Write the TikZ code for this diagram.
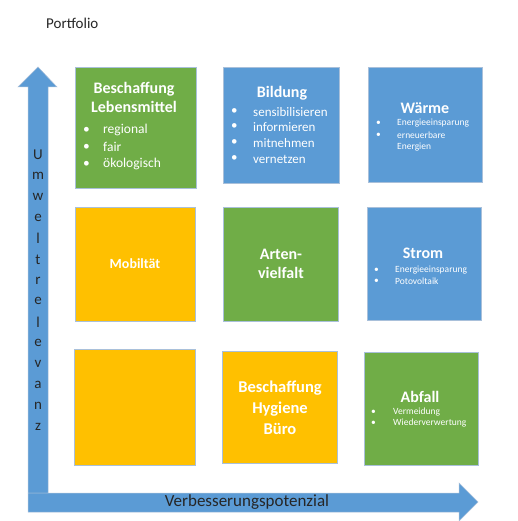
\documentclass[tikz,border=0pt]{standalone}
\usepackage{fontspec}
\setmainfont{Carlito}
\definecolor{grn}{HTML}{70AD47}
\definecolor{blu}{HTML}{5B9BD5}
\definecolor{yel}{HTML}{FFC000}
\definecolor{edgec}{HTML}{A9C0DA}
\definecolor{txt}{HTML}{262626}
\begin{document}
\begin{tikzpicture}[x=1pt,y=-1pt,
  box/.style={draw=edgec, line width=0.6pt, inner sep=0pt, anchor=north west},
  ttl/.style={text=white, font=\bfseries\fontsize{16}{19}\selectfont, align=center, inner sep=0pt},
  bigitem/.style={text=white, font=\fontsize{13.5}{16}\selectfont, inner sep=0pt, anchor=west},
  miditem/.style={text=white, font=\fontsize{13}{15}\selectfont, inner sep=0pt, anchor=west},
  smallitem/.style={text=white, font=\fontsize{9.5}{11}\selectfont, inner sep=0pt, anchor=west},
  vlet/.style={text=txt, font=\fontsize{15}{17}\selectfont, inner sep=0pt}]
\useasboundingbox (0,0) rectangle (518,521);
\fill[white] (0,0) rectangle (518,521);

% title
\node[text=txt, font=\fontsize{15}{17}\selectfont, anchor=west, inner sep=0pt] (port) at (46,23) {Portfolio};

% arrows
\filldraw[fill=blu, draw=edgec, line width=0.5pt]
  (28,493) -- (28,87) -- (18,87) -- (38,67) -- (57,87) -- (48,87) -- (48,493) -- cycle;
\filldraw[fill=blu, draw=edgec, line width=0.5pt]
  (28,493) -- (459,493) -- (459,483) -- (478,502) -- (459,521) -- (459,512) -- (28,512) -- cycle;

\node[text=txt, font=\fontsize{17}{19}\selectfont, inner sep=0pt] (xlab) at (247,502) {Verbesserungspotenzial};

\foreach \l [count=\i] in {U,m,w,e,l,t,r,e,l,e,v,a,n,z}
  \node[vlet] (y\i) at (38,{155+(\i-1)*20.9}) {\l};

% row 1
\node[box, fill=grn, minimum width=121pt, minimum height=121pt] (b11) at (75,67) {};
\node[ttl] (t11) at (134,97) {Beschaffung\\Lebensmittel};
\node[bigitem, text=white] (d11a) at (83,130) {•};
\node[bigitem] (i11a) at (103,130) {regional};
\node[bigitem] (d11b) at (83,147) {•};
\node[bigitem] (i11b) at (103,147) {fair};
\node[bigitem] (d11c) at (83,164) {•};
\node[bigitem] (i11c) at (103,164) {ökologisch};

\node[box, fill=blu, minimum width=116pt, minimum height=116pt] (b12) at (223,67) {};
\node[ttl] (t12) at (282,93) {Bildung};
\node[miditem] (d12a) at (231,112) {•};
\node[miditem] (i12a) at (253,112) {sensibilisieren};
\node[miditem] (d12b) at (231,127) {•};
\node[miditem] (i12b) at (253,127) {informieren};
\node[miditem] (d12c) at (231,143) {•};
\node[miditem] (i12c) at (253,143) {mitnehmen};
\node[miditem] (d12d) at (231,159) {•};
\node[miditem] (i12d) at (253,159) {vernetzen};

\node[box, fill=blu, minimum width=114pt, minimum height=115pt] (b13) at (368,67) {};
\node[ttl] (t13) at (425,108) {Wärme};
\node[smallitem] (d13a) at (376,123) {•};
\node[smallitem] (i13a) at (397,123) {Energieeinsparung};
\node[smallitem] (d13b) at (376,135) {•};
\node[smallitem] (i13b) at (397,135) {erneuerbare};
\node[smallitem] (i13c) at (397,147) {Energien};

% row 2
\node[box, fill=yel, minimum width=120pt, minimum height=114pt] (b21) at (75,207) {};
\node[ttl, font=\bfseries\fontsize{14}{17}\selectfont] (t21) at (135,264) {Mobiltät};

\node[box, fill=grn, minimum width=115pt, minimum height=114pt] (b22) at (223,207) {};
\node[ttl] (t22) at (281,264) {Arten-\\vielfalt};

\node[box, fill=blu, minimum width=114pt, minimum height=113pt] (b23) at (367,207) {};
\node[ttl] (t23) at (423,253) {Strom};
\node[smallitem] (d23a) at (374,270) {•};
\node[smallitem] (i23a) at (395,270) {Energieeinsparung};
\node[smallitem] (d23b) at (374,281) {•};
\node[smallitem] (i23b) at (395,281) {Potovoltaik};

% row 3
\node[box, fill=yel, minimum width=121pt, minimum height=116pt] (b31) at (74,349) {};

\node[box, fill=yel, minimum width=115pt, minimum height=112pt] (b32) at (222,351) {};
\node[ttl, font=\bfseries\fontsize{16.5}{21}\selectfont] (t32) at (280,408) {Beschaffung\\Hygiene\\Büro};

\node[box, fill=grn, minimum width=114pt, minimum height=113pt] (b33) at (364,352) {};
\node[ttl] (t33) at (420,397) {Abfall};
\node[smallitem] (d33a) at (371,412) {•};
\node[smallitem] (i33a) at (393,412) {Vermeidung};
\node[smallitem] (d33b) at (371,423) {•};
\node[smallitem] (i33b) at (393,423) {Wiederverwertung};
\end{tikzpicture}
\end{document}
